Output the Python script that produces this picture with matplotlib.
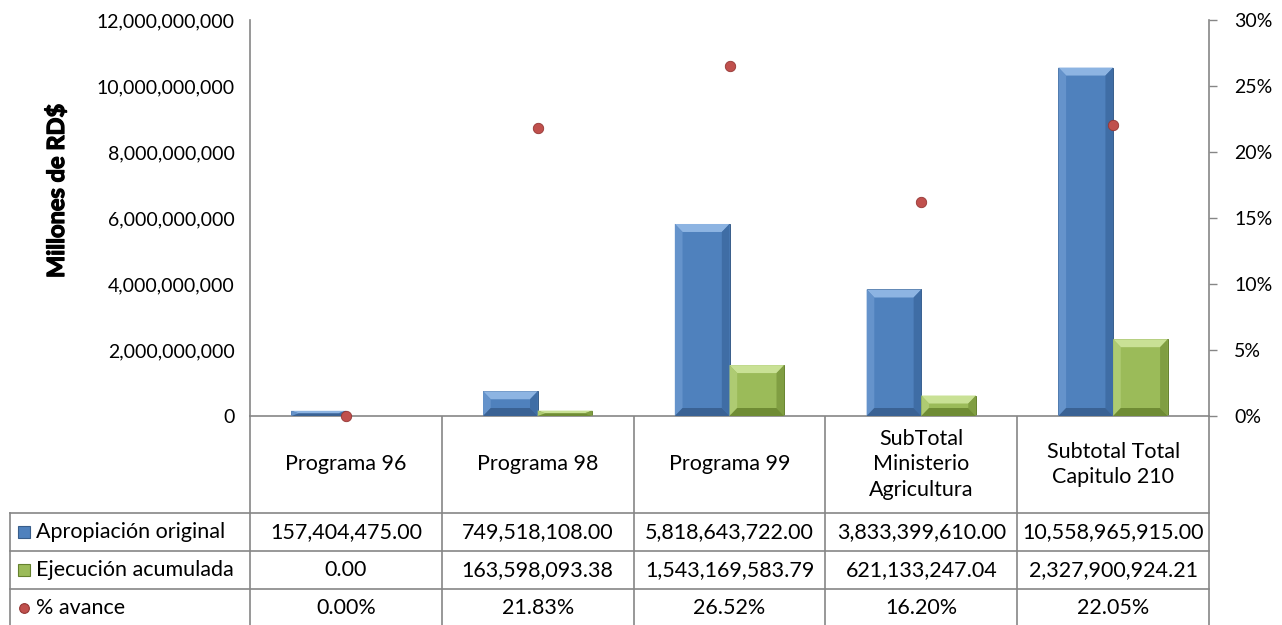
import numpy as np
import matplotlib
matplotlib.use("Agg")
import matplotlib.pyplot as plt
import matplotlib.patheffects as pe
from matplotlib.ticker import FuncFormatter

plt.rcParams['font.family'] = ['Lato', 'DejaVu Sans']

categories = ['Programa 96', 'Programa 98', 'Programa 99',
              'SubTotal\nMinisterio\nAgricultura', 'Subtotal Total\nCapitulo 210']
apropiacion = [157404475.00, 749518108.00, 5818643722.00, 3833399610.00, 10558965915.00]
ejecucion = [0.00, 163598093.38, 1543169583.79, 621133247.04, 2327900924.21]
avance = [0.0, 0.2183, 0.2652, 0.1620, 0.2205]
series_names = ['Apropiación original', 'Ejecución acumulada', '% avance']

W, H = 1282, 625
fig = plt.figure(figsize=(W / 100, H / 100), dpi=100)

left, right, top, zero = 250, 1209, 20, 416
ax = fig.add_axes([left / W, 1 - zero / H, (right - left) / W, (zero - top) / H])
ax2 = ax.twinx()

n = len(categories)
x = np.arange(n) + 0.5
bw = 0.285
fs_tick = 14
fs_tab = 15.5

# face, top, left, right, bottom, edge
blue = ['#4F81BD', '#8DB4E2', '#6593CB', '#3F6DA5', '#3A6294', '#385D8A']
green = ['#9BBB59', '#C9E195', '#AECB72', '#809E42', '#6F8C34', '#65812E']


def bevel_bars(xs, vals, pal):
    bars = ax.bar(xs, vals, bw, color=pal[0], edgecolor=pal[5], linewidth=0.7, zorder=2)
    for b in bars:
        x0, w, v = b.get_x(), b.get_width(), b.get_height()
        if v <= 0:
            continue
        by = min(12e9 * 8 / 396, v / 2)
        bx = min(0.04, w / 2)
        x1 = x0 + w
        ax.fill([x0, x1, x1 - bx, x0 + bx], [v, v, v - by, v - by], color=pal[1], lw=0, zorder=3)
        ax.fill([x0, x0 + bx, x0 + bx, x0], [v, v - by, by, 0], color=pal[2], lw=0, zorder=3)
        ax.fill([x1, x1 - bx, x1 - bx, x1], [v, v - by, by, 0], color=pal[3], lw=0, zorder=3)
        ax.fill([x0, x1, x1 - bx, x0 + bx], [0, 0, by, by], color=pal[4], lw=0, zorder=3)


bevel_bars(x - bw / 2, apropiacion, blue)
bevel_bars(x + bw / 2, ejecucion, green)

ax2.plot(x, avance, 'o', color='#C0504D', markersize=7.5, markeredgecolor='#943634',
         markeredgewidth=0.6, zorder=5, clip_on=False)

ax.set_xlim(0, n)
ax.set_ylim(0, 12e9)
ax.set_yticks(np.arange(0, 12e9 + 1, 2e9))
ax.yaxis.set_major_formatter(FuncFormatter(lambda v, p: f'{v:,.0f}'))
ax.tick_params(axis='y', length=0, pad=11, labelsize=fs_tick)
ax.set_xticks([])
ax2.set_ylim(0, 0.30)
ax2.set_yticks(np.arange(0, 0.301, 0.05))
ax2.yaxis.set_major_formatter(FuncFormatter(lambda v, p: f'{v * 100:.0f}%'))
ax2.tick_params(axis='y', length=6, width=1, color='#868686', pad=12, labelsize=fs_tick)

for a in (ax, ax2):
    a.spines['top'].set_visible(False)
    for s in ('left', 'right', 'bottom'):
        a.spines[s].set_color('#868686')
        a.spines[s].set_linewidth(1.2)
ax.spines['right'].set_visible(False)
ax2.spines['left'].set_visible(False)
ax2.spines['bottom'].set_visible(False)
fig.text(56 / W, 1 - 191 / H, 'Millones de RD$', rotation=90, ha='center', va='center',
         fontsize=17, fontweight='bold', family=['Liberation Sans Narrow', 'Lato'],
         path_effects=[pe.withStroke(linewidth=0.9, foreground='black')])

# data table below the plot
tab = fig.add_axes([0, 0, 1, 1], zorder=-1)
tab.set_xlim(0, W)
tab.set_ylim(H, 0)
tab.axis('off')
lc = '#868686'
cw = (right - left) / n
edges = [left + i * cw for i in range(n + 1)]
rows = [zero, 513, 551, 589, 627]
for e in edges:
    tab.plot([e, e], [zero, H], color=lc, lw=1.2)
for r in rows[1:4]:
    tab.plot([10, right], [r, r], color=lc, lw=1.2)
tab.plot([10, 10], [rows[1], H], color=lc, lw=1.2)

for i, c in enumerate(categories):
    tab.text((edges[i] + edges[i + 1]) / 2, (rows[0] + rows[1]) / 2, c,
             ha='center', va='center', fontsize=fs_tab, linespacing=1.33)

row_vals = [[f'{v:,.2f}' for v in apropiacion],
            [f'{v:,.2f}' for v in ejecucion],
            [f'{v * 100:.2f}%' for v in avance]]
for j, vals in enumerate(row_vals):
    yc = (rows[j + 1] + rows[j + 2]) / 2
    for i, s in enumerate(vals):
        tab.text((edges[i] + edges[i + 1]) / 2, yc, s, ha='center', va='center', fontsize=fs_tab)

keys = [dict(marker='s', color=blue[0], mec=blue[5], ms=9),
        dict(marker='s', color=green[0], mec=green[5], ms=9),
        dict(marker='o', color='#C0504D', mec='#943634', ms=7)]
for j, (name, k) in enumerate(zip(series_names, keys)):
    yc = (rows[j + 1] + rows[j + 2]) / 2
    tab.plot([24], [yc], linestyle='none', marker=k['marker'], color=k['color'],
             markeredgecolor=k['mec'], markersize=k['ms'], markeredgewidth=0.8)
    tab.text(36, yc, name, ha='left', va='center', fontsize=fs_tab)

fig.savefig('out.png', dpi=100)
